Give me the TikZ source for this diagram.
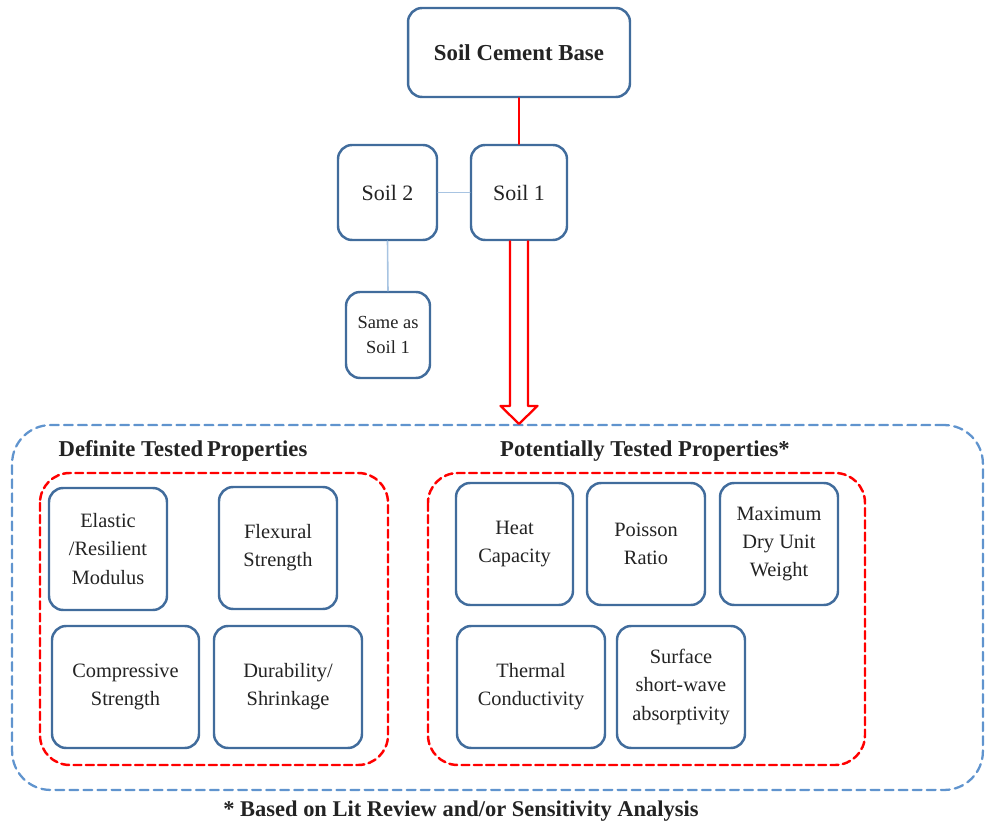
\documentclass[tikz,border=0pt]{standalone}
\usepackage{fontspec}
\setmainfont{Liberation Serif}
\usetikzlibrary{calc}
\definecolor{boxblue}{RGB}{65,108,156}
\definecolor{dashblue}{RGB}{96,148,206}
\definecolor{linkblue}{RGB}{168,196,226}
\definecolor{textgray}{RGB}{35,35,35}
\begin{document}
\begin{tikzpicture}[line cap=round,line join=round,x=0.02cm,y=-0.02cm,
		propbox/.style={draw=boxblue,line width=1.4pt,rounded corners=8pt,fill=white,align=center,inner sep=2pt,text=textgray,font=\fontsize{11.6}{16}\selectfont},
		groupbox/.style={draw=red,line width=1.4pt,dash pattern=on 4.5pt off 2.5pt,rounded corners=17pt},
		heading/.style={text=textgray,font=\fontsize{12.9}{15}\selectfont\bfseries}]
			\useasboundingbox (0,0) rectangle (985,824);
			\node[draw=dashblue,line width=1.3pt,dash pattern=on 5pt off 3pt,rounded corners=22pt,minimum width=19.42cm,minimum height=7.3cm] (tested) at (497.5,607.5) {};
			\draw[groupbox] (40,473) rectangle (388,765);
			\draw[groupbox] (428,473) rectangle (865,765);
			\node[propbox,minimum width=4.44cm,minimum height=1.78cm,font=\fontsize{13}{15}\selectfont\bfseries] (base) at (519,52.5) {Soil Cement Base};
			\node[propbox,minimum width=1.92cm,minimum height=1.9cm,font=\fontsize{12.5}{15}\selectfont] (soil1) at (519,192.5) {Soil 1};
			\node[propbox,minimum width=1.98cm,minimum height=1.9cm,font=\fontsize{12.5}{15}\selectfont] (soil2) at (387.5,192.5) {Soil 2};
			\node[propbox,minimum width=1.68cm,minimum height=1.72cm,font=\fontsize{10.5}{14.5}\selectfont] (same) at (388,335) {Same as\\Soil 1};
			\draw[red,line width=1.5pt] (base.south) -- (soil1.north);
			\draw[linkblue,line width=0.9pt] (soil2.east) -- (soil1.west);
			\draw[linkblue,line width=0.9pt] (soil2.south) -- (same.north);
			\coordinate (tip) at (soil1.south |- tested.north);
			\draw[red,line width=1.3pt,fill=white] ($(soil1.south)+(-9,0)$) -- ($(tip)+(-9,-18)$) -- ($(tip)+(-18.5,-18)$) -- (tip) -- ($(tip)+(18.5,-18)$) -- ($(tip)+(9,-18)$) -- ($(soil1.south)+(9,0)$);
			\node[heading] (definite) at (183,451) {Definite Tested\,Properties};
			\node[heading] (potential) at (645,451) {Potentially Tested Properties*};
			\node[propbox,minimum width=2.36cm,minimum height=2.44cm] (elastic) at (108,549) {Elastic\\/Resilient\\Modulus};
			\node[propbox,minimum width=2.36cm,minimum height=2.44cm] (flexural) at (278,548) {Flexural\\Strength};
			\node[propbox,minimum width=2.94cm,minimum height=2.44cm] (compressive) at (125.5,687) {Compressive\\Strength};
			\node[propbox,minimum width=2.96cm,minimum height=2.44cm] (durability) at (288,687) {Durability/\\Shrinkage};
			\node[propbox,minimum width=2.34cm,minimum height=2.44cm] (heat) at (514.5,544) {Heat\\Capacity};
			\node[propbox,minimum width=2.36cm,minimum height=2.44cm] (poisson) at (646,544) {Poisson\\Ratio};
			\node[propbox,minimum width=2.36cm,minimum height=2.44cm] (maxdry) at (779,544) {Maximum\\Dry Unit\\Weight};
			\node[propbox,minimum width=2.96cm,minimum height=2.44cm] (thermal) at (531,687) {Thermal\\Conductivity};
			\node[propbox,minimum width=2.56cm,minimum height=2.44cm] (surface) at (681,687) {Surface\\short-wave\\absorptivity};
			\node[heading,font=\fontsize{12.8}{15}\selectfont\bfseries] (note) at (461,811) {* Based on Lit Review and/or Sensitivity Analysis};
		\end{tikzpicture}
\end{document}
